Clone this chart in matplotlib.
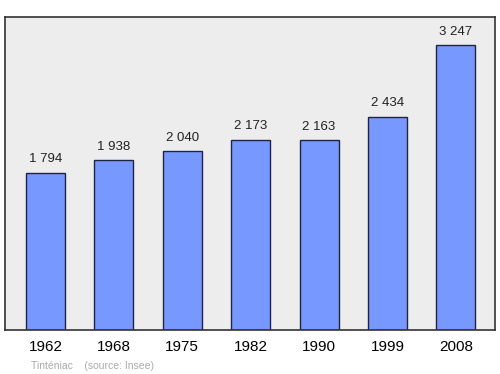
import matplotlib.pyplot as plt

years = ["1962", "1968", "1975", "1982", "1990", "1999", "2008"]
population = [1794, 1938, 2040, 2173, 2163, 2434, 3247]
labels = ["1 794", "1 938", "2 040", "2 173", "2 163", "2 434", "3 247"]

plt.rcParams['font.family'] = ['Liberation Sans', 'DejaVu Sans']

fig = plt.figure(figsize=(5, 3.74), dpi=100)
ax = fig.add_axes([0.01, 0.1176, 0.98, 0.837])
ax.set_facecolor('#ededed')

x = range(len(years))
ax.bar(x, population, width=0.57, color='#7799ff', edgecolor='#222244', linewidth=1)

for i, v in enumerate(population):
    ax.annotate(labels[i], (i, v), xytext=(0, 5.5), textcoords='offset points',
                ha='center', va='bottom', fontsize=9.5, color='#222222')

ax.set_xlim(-0.59, 6.57)
ax.set_ylim(0, 3247 * 1.1)
ax.set_yticks([])
ax.set_xticks(list(x))
ax.set_xticklabels(years, fontsize=11)
ax.tick_params(axis='x', length=0, pad=7.5)
for s in ax.spines.values():
    s.set_color('#333333')
    s.set_linewidth(1.2)

fig.text(0.062, 0.013, "Tinténiac    (source: Insee)", fontsize=7.5, color='#aaaaaa')

fig.savefig("out.png", dpi=100)
